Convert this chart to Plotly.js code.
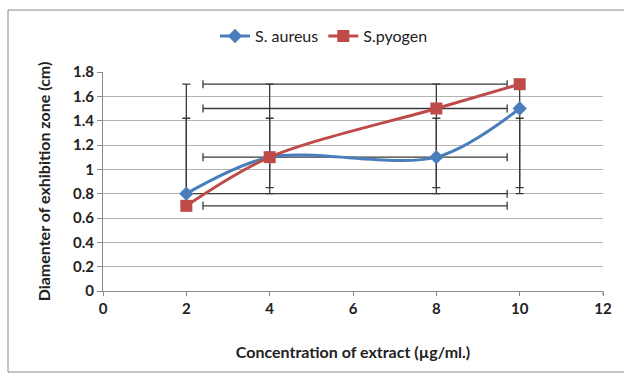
<!DOCTYPE html>
<html>
<head>
<meta charset="utf-8">
<script src="https://cdn.plot.ly/plotly-3.0.1.min.js"></script>
<style>html,body{margin:0;padding:0;background:#fff;}#chart{width:624px;height:378px;}</style>
</head>
<body>
<div id="chart"></div>
<script>
// Data
var concentration = [2, 4, 8, 10];
var aureus = [0.8, 1.1, 1.1, 1.5];
var pyogen = [0.7, 1.1, 1.5, 1.7];

// Vertical error bars (as drawn): x, low, high
var vBarX = [2, 4, 8, 10];
var vBarLowA = [0.8, 0.8, 0.8, 0.8];
var vBarHighA = [1.7, 1.7, 1.7, 1.7];
var vBarLowB = [0.7, 0.85, 0.85, 0.85];
var vBarHighB = [1.42, 1.42, 1.42, 1.42];

// Horizontal error bars (as drawn): y, left, right
var hBarY = [1.7, 1.5, 1.1, 0.8, 0.7];
var hBarLeft = [2.4, 2.4, 2.4, 2.0, 2.4];
var hBarRight = [9.7, 9.7, 9.7, 9.7, 9.7];

var xTicks = [0, 2, 4, 6, 8, 10, 12];
var yTicks = [0, 0.2, 0.4, 0.6, 0.8, 1, 1.2, 1.4, 1.6, 1.8];

var errColor = '#3a3a3a';
function diff(a, b) { return a.map(function (v, i) { return v - b[i]; }); }
function zeros(a) { return a.map(function () { return 0; }); }

function vTrace(low, high) {
  return {
    x: vBarX, y: low, type: 'scatter', mode: 'markers',
    marker: {size: 1, opacity: 0}, showlegend: false, hoverinfo: 'skip',
    error_y: {type: 'data', symmetric: false, array: diff(high, low), arrayminus: zeros(low),
      color: errColor, thickness: 1.3, width: 4}
  };
}

var traces = [
  vTrace(vBarLowA, vBarHighA),
  vTrace(vBarLowB, vBarHighB),
  {
    x: hBarLeft, y: hBarY, type: 'scatter', mode: 'markers',
    marker: {size: 1, opacity: 0}, showlegend: false, hoverinfo: 'skip',
    error_x: {type: 'data', symmetric: false, array: diff(hBarRight, hBarLeft), arrayminus: zeros(hBarLeft),
      color: errColor, thickness: 1.3, width: 4}
  },
  {
    x: concentration, y: aureus, name: 'S. aureus', type: 'scatter', mode: 'lines+markers',
    line: {color: '#4A7EBB', width: 3, shape: 'spline', smoothing: 0.9},
    marker: {symbol: 'diamond', size: 11, color: '#4A7EBB'}
  },
  {
    x: concentration, y: pyogen, name: 'S.pyogen', type: 'scatter', mode: 'lines+markers',
    line: {color: '#BE4B48', width: 3, shape: 'spline', smoothing: 0.9},
    marker: {symbol: 'square', size: 12, color: '#BE4B48'}
  }
];

var fontFam = 'Lato, "Open Sans", sans-serif';
var layout = {
  width: 624, height: 378,
  margin: {l: 103, r: 21, t: 72, b: 87},
  paper_bgcolor: '#ffffff', plot_bgcolor: '#ffffff',
  font: {family: fontFam, size: 16, color: '#222'},
  showlegend: true,
  legend: {orientation: 'h', x: 0.442, xanchor: 'center', y: 1.164, yanchor: 'middle',
    font: {family: fontFam, size: 16, color: '#222'}, itemwidth: 30, traceorder: 'normal'},
  xaxis: {
    range: [0, 12], tickvals: xTicks, ticktext: xTicks.map(String),
    showgrid: false, zeroline: false, showline: true, linecolor: '#8a8a8a', linewidth: 1,
    ticks: 'outside', ticklen: 4, tickcolor: '#8a8a8a',
    tickfont: {family: fontFam, size: 15, color: '#222', weight: 'bold'},
    title: {text: 'Concentration of extract (µg/ml.)', standoff: 30,
      font: {family: fontFam, size: 16, color: '#222', weight: 'bold'}},
    fixedrange: true
  },
  yaxis: {
    range: [0, 1.8], tickvals: yTicks, ticktext: yTicks.map(String),
    showgrid: true, gridcolor: '#b4b4b4', gridwidth: 1, zeroline: false,
    showline: true, linecolor: '#8a8a8a', linewidth: 1,
    ticks: 'outside', ticklen: 5, tickcolor: '#8a8a8a',
    tickfont: {family: fontFam, size: 15, color: '#222', weight: 'bold'},
    title: {text: 'Diamenter of exhibition zone (cm)', standoff: 18,
      font: {family: fontFam, size: 16, color: '#222', weight: 'bold'}},
    fixedrange: true
  },
  shapes: [
    {type: 'rect', xref: 'paper', yref: 'paper', x0: -0.19, x1: 1.06, y0: -0.37, y1: 1.283,
      line: {color: '#8a8a8a', width: 1}, fillcolor: 'rgba(0,0,0,0)', layer: 'below'},
    {type: 'line', xref: 'paper', yref: 'paper', x0: 1, x1: 1, y0: 0, y1: -0.02,
      line: {color: '#8a8a8a', width: 1}}
  ]
};

Plotly.newPlot('chart', traces, layout, {displayModeBar: false, staticPlot: true});
</script>
</body>
</html>
